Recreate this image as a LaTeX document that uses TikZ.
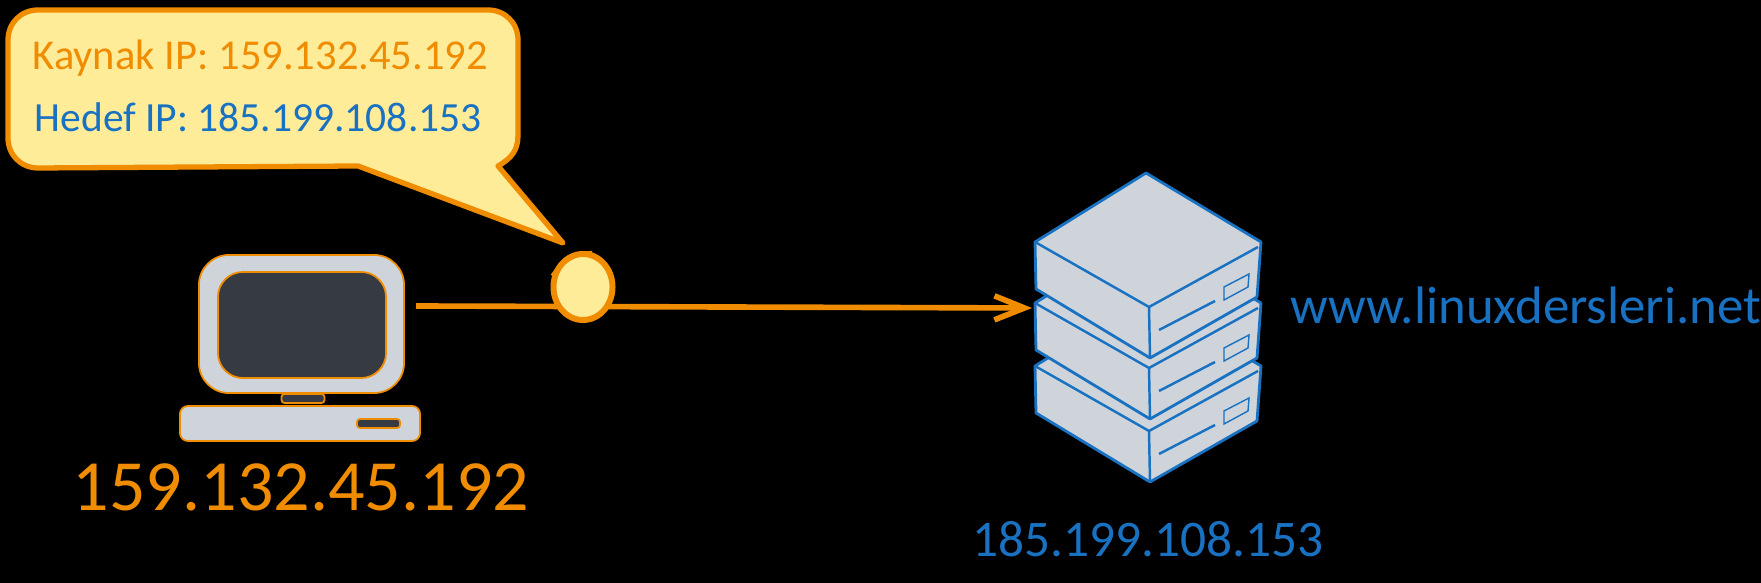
\documentclass[tikz,border=0pt]{standalone}
\usepackage{xcolor}
\usepackage{fontspec}
\setmainfont{Carlito}
\usepackage{tikz}
\usetikzlibrary{arrows.meta, positioning, shapes.geometric}
\definecolor{sketchorange}{HTML}{F08C00}
\definecolor{sketchblue}{HTML}{1971C2}
\definecolor{sketchyellow}{HTML}{FFEC99}
\definecolor{casegrey}{HTML}{CFD4DA}
\definecolor{screendark}{HTML}{363A42}
\tikzset{%
	bubble/.style={draw=sketchorange, fill=sketchyellow, line width=1.5pt, line join=round},
	packet/.style={draw=sketchorange, fill=sketchyellow, line width=1.7pt, ellipse,%
		minimum width=5.9mm, minimum height=6.6mm, inner sep=0mm},
	wire/.style={draw=sketchorange, line width=1.6pt, -{Straight Barb[length=3mm, width=2.4mm, line width=1.6pt]}},
	pccase/.style={draw=sketchorange, fill=casegrey, line width=.5pt, rectangle, inner sep=0mm},
	pcdark/.style={draw=sketchorange, fill=screendark, line width=.5pt, rectangle, inner sep=0mm},
	srvface/.style={draw=sketchblue, fill=casegrey, line width=.8pt, line join=round},
	srvline/.style={draw=sketchblue, line width=.7pt},
	srvslot/.style={draw=sketchblue, line width=.4pt},
	orangetext/.style={text=sketchorange, inner sep=0mm},
	bluetext/.style={text=sketchblue, inner sep=0mm}
}
\newcommand\serverunit[1]{% vertical offset
	\begin{scope}[shift={(0,#1)}]
		\draw[srvface] (1146,173) -- (1261,242) -- (1257,297) -- (1150,358) -- (1036,289) -- (1035,242) -- cycle;
		\draw[srvline] (1035,242) -- (1149,307) -- (1258,247);
		\draw[srvline] (1149,307) -- (1150,358);
		\draw[srvline] (1159,330) -- (1215,301);
		\draw[srvslot] (1224,287) -- (1249,274) -- (1248,287) -- (1224,300) -- cycle;
	\end{scope}
}

\begin{document}
\begin{tikzpicture}[x=0.01cm, y=-0.01cm]
	\useasboundingbox (0,0) rectangle (1761,583);
	\fill[black] (0,0) rectangle (1761,583);

	% speech bubble
	\coordinate (tip) at (563,243);
	\draw[bubble] (tip) -- (358,166) -- (38,168) .. controls (21,168) and (8,155) .. (8,138) -- (8,40)
		.. controls (8,23) and (21,10) .. (38,10) -- (488,10) .. controls (505,10) and (518,23) .. (518,40) -- (518,135)
		.. controls (518,150) and (512,158) .. (498,166) -- cycle;
	\node[orangetext, anchor=west, font=\fontsize{12.1pt}{14pt}\selectfont] (kaynak) at (32,58) {Kaynak IP: 159.132.45.192};
	\node[bluetext, anchor=west, font=\fontsize{11.8pt}{14pt}\selectfont] (hedef) at (34,117) {Hedef IP: 185.199.108.153};

	% computer
	\node[pccase, rounded corners=3mm, minimum width=2.05cm, minimum height=1.38cm] (monitor) at (301.5,324) {};
	\node[pcdark, rounded corners=2.5mm, minimum width=1.68cm, minimum height=1.06cm] (screen) at (302,325) {};
	\node[pcdark, rounded corners=.3mm, minimum width=4.3mm, minimum height=.9mm] (neck) at (303,398.5) {};
	\node[pccase, rounded corners=.8mm, minimum width=2.4cm, minimum height=3.5mm] (base) at (300,423.5) {};
	\node[pcdark, rounded corners=.3mm, minimum width=4.3mm, minimum height=.9mm] (slot) at (378.5,423.5) {};
	\node[orangetext, font=\fontsize{20.5pt}{24pt}\selectfont] (srcip) at (301,487) {159.132.45.192};

	% server stack
	\serverunit{124}
	\serverunit{61}
	\serverunit{0}
	\node[bluetext, font=\fontsize{14.6pt}{18pt}\selectfont] (dstip) at (1148,539) {185.199.108.153};
	\node[bluetext, anchor=west, font=\fontsize{15pt}{20pt}\selectfont] (site) at (1290,305) {www.linuxdersleri.net};

	% connection
	\coordinate (wirefrom) at (416,306);
	\coordinate (wireto) at (1032,308);
	\draw[wire] (wirefrom) -- (wireto);
	\node[packet] (pkt) at (583,287) {};
	\draw[sketchorange, line width=1pt] (pkt.160) to[bend left=25] (pkt.75);
\end{tikzpicture}
\end{document}
